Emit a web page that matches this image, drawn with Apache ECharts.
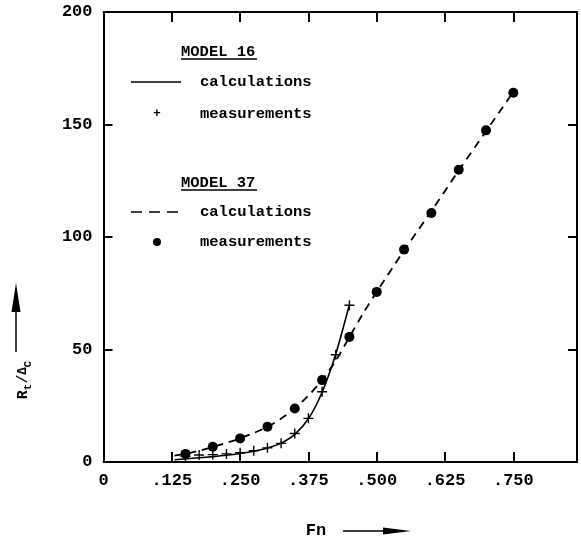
<!DOCTYPE html>
<html>
<head>
<meta charset="utf-8">
<script src="https://cdn.jsdelivr.net/npm/echarts@6/dist/echarts.min.js"></script>
<style>
  html, body { margin: 0; padding: 0; background: #fff; }
  #chart { width: 581px; height: 543px; }
</style>
</head>
<body>
<div id="chart"></div>
<script>
  // Model 16 - calculations (solid) and measurements (+)
  let fnCalc16 = [0.13, 0.15, 0.175, 0.2, 0.225, 0.25, 0.275, 0.3, 0.325, 0.35, 0.375, 0.4, 0.425, 0.45]
  let rtCalc16 = [1.0, 1.4, 1.9, 2.4, 3.0, 3.8, 4.8, 6.2, 8.4, 12.3, 19.2, 31, 48, 70]
  let fnMeas16 = [0.15, 0.175, 0.2, 0.225, 0.25, 0.275, 0.3, 0.325, 0.35, 0.375, 0.4, 0.425, 0.45]
  let rtMeas16 = [2.5, 3.1, 3.3, 3.6, 4.1, 5.0, 6.3, 8.3, 12.7, 19.4, 31.2, 47.7, 69.7]
  // Model 37 - calculations (dashed) and measurements (dots)
  let fnCalc37 = [0.13, 0.15, 0.175, 0.2, 0.225, 0.25, 0.275, 0.3, 0.325, 0.35, 0.375, 0.4, 0.425, 0.45, 0.475, 0.5, 0.55, 0.6, 0.65, 0.7, 0.75]
  let rtCalc37 = [2.8, 3.6, 5.0, 6.7, 8.5, 10.5, 12.9, 15.6, 19.3, 23.8, 29.5, 36.5, 45, 55.5, 66, 75.6, 94, 111.5, 129.5, 147, 164.5]
  let fnMeas37 = [0.15, 0.2, 0.25, 0.3, 0.35, 0.4, 0.45, 0.5, 0.55, 0.6, 0.65, 0.7, 0.75]
  let rtMeas37 = [3.6, 6.8, 10.5, 15.7, 23.8, 36.4, 55.6, 75.6, 94.4, 110.7, 129.9, 147.4, 164.1]

  let xTicks = [0, 0.125, 0.25, 0.375, 0.5, 0.625, 0.75]
  let yTicks = [0, 50, 100, 150, 200]

  const FONT = '"Liberation Mono", "DejaVu Sans Mono", monospace'
  const plusPath = 'path://M4.3,0H5.7V4.3H10V5.7H5.7V10H4.3V5.7H0V4.3H4.3Z'

  let zip = (xs, ys) => xs.map((x, i) => [x, ys[i]])

  let chart = echarts.init(document.getElementById('chart'))

  let xLabel = v => {
    let hit = xTicks.find(t => Math.abs(t - v) < 1e-6)
    if (hit === undefined) return ''
    return hit === 0 ? '0' : hit.toFixed(3).replace(/^0/, '')
  }

  let xAxisBase = {
    type: 'value',
    min: 0,
    max: 0.8665,
    interval: 0.125,
    axisLine: { show: true, onZero: false, lineStyle: { color: '#000', width: 2 } },
    axisTick: { show: true, inside: true, length: 10, lineStyle: { color: '#000', width: 2 } },
    splitLine: { show: false }
  }
  let yAxisBase = {
    type: 'value',
    min: 0,
    max: 200,
    interval: 50,
    axisLine: { show: true, onZero: false, lineStyle: { color: '#000', width: 2 } },
    axisTick: { show: true, inside: true, length: 9, lineStyle: { color: '#000', width: 2 } },
    splitLine: { show: false }
  }

  let legendText = (x, y, text) => ({
    type: 'text', x: x, y: y,
    style: {
      text: text, fill: '#000', font: 'bold 15.5px ' + FONT,
      verticalAlign: 'middle'
    }
  })

  let option = {
    animation: false,
    backgroundColor: '#fff',
    grid: { left: 103.5, right: 4, top: 12, bottom: 81, containLabel: false },
    xAxis: [
      Object.assign({}, xAxisBase, {
        position: 'bottom',
        axisLabel: {
          show: true, margin: 10, color: '#000', fontFamily: FONT, fontWeight: 'bold', fontSize: 17,
          formatter: xLabel, showMaxLabel: false
        }
      }),
      Object.assign({}, xAxisBase, { position: 'top', axisLabel: { show: false } })
    ],
    yAxis: [
      Object.assign({}, yAxisBase, {
        position: 'left',
        axisLabel: { show: true, margin: 11, color: '#000', fontFamily: FONT, fontWeight: 'bold', fontSize: 17 }
      }),
      Object.assign({}, yAxisBase, { position: 'right', axisLabel: { show: false } })
    ],
    series: [
      {
        name: 'MODEL 16 calculations', type: 'line', smooth: 0.3, showSymbol: false,
        lineStyle: { color: '#000', width: 1.6 },
        data: zip(fnCalc16, rtCalc16)
      },
      {
        name: 'MODEL 16 measurements', type: 'scatter', symbol: plusPath, symbolSize: 10,
        itemStyle: { color: '#000', opacity: 1 },
        data: zip(fnMeas16, rtMeas16)
      },
      {
        name: 'MODEL 37 calculations', type: 'line', smooth: 0.3, showSymbol: false,
        lineStyle: { color: '#000', width: 1.8, type: [8, 6] },
        data: zip(fnCalc37, rtCalc37)
      },
      {
        name: 'MODEL 37 measurements', type: 'scatter', symbol: 'circle', symbolSize: 10,
        itemStyle: { color: '#000', opacity: 1 },
        data: zip(fnMeas37, rtMeas37)
      }
    ],
    graphic: [
      // legend block
      legendText(181, 52, 'MODEL 16'),
      { type: 'line', shape: { x1: 181, y1: 59, x2: 257, y2: 59 }, style: { stroke: '#000', lineWidth: 1.5 } },
      { type: 'line', shape: { x1: 131, y1: 82, x2: 181, y2: 82 }, style: { stroke: '#000', lineWidth: 1.6 } },
      legendText(200, 82, 'calculations'),
      { type: 'text', x: 157, y: 114, style: { text: '+', fill: '#000', font: 'bold 13px ' + FONT, align: 'center', verticalAlign: 'middle' } },
      legendText(200, 114, 'measurements'),
      legendText(181, 183, 'MODEL 37'),
      { type: 'line', shape: { x1: 181, y1: 190, x2: 257, y2: 190 }, style: { stroke: '#000', lineWidth: 1.5 } },
      { type: 'line', shape: { x1: 131, y1: 212, x2: 181, y2: 212 }, style: { stroke: '#000', lineWidth: 1.6, lineDash: [11, 7] } },
      legendText(200, 212, 'calculations'),
      { type: 'circle', shape: { cx: 157, cy: 242, r: 4 }, style: { fill: '#000' } },
      legendText(200, 242, 'measurements'),
      // y axis name with arrow
      {
        type: 'text', x: 23, y: 380, rotation: Math.PI / 2,
        style: {
          text: '{m|R}{s|t}{m|/}{d|Δ}{s|C}',
          fill: '#000', align: 'center', verticalAlign: 'middle',
          rich: {
            m: { fontFamily: FONT, fontWeight: 'bold', fontSize: 15, lineHeight: 22, verticalAlign: 'middle' },
            d: { fontFamily: FONT, fontWeight: 'bold', fontSize: 12, lineHeight: 22, verticalAlign: 'middle' },
            s: { fontFamily: FONT, fontWeight: 'bold', fontSize: 11, lineHeight: 22, verticalAlign: 'bottom' }
          }
        }
      },
      { type: 'line', shape: { x1: 16, y1: 352, x2: 16, y2: 308 }, style: { stroke: '#000', lineWidth: 1.5 } },
      { type: 'polygon', shape: { points: [[16, 283], [11.5, 312], [20.5, 312]] }, style: { fill: '#000' } },
      // x axis name with arrow
      { type: 'text', x: 316, y: 531, style: { text: 'Fn', fill: '#000', font: 'bold 17px ' + FONT, align: 'center', verticalAlign: 'middle' } },
      { type: 'line', shape: { x1: 343, y1: 531, x2: 386, y2: 531 }, style: { stroke: '#000', lineWidth: 1.5 } },
      { type: 'polygon', shape: { points: [[411, 531], [383, 527.5], [383, 534.5]] }, style: { fill: '#000' } }
    ]
  }
  chart.setOption(option)
</script>
</body>
</html>
